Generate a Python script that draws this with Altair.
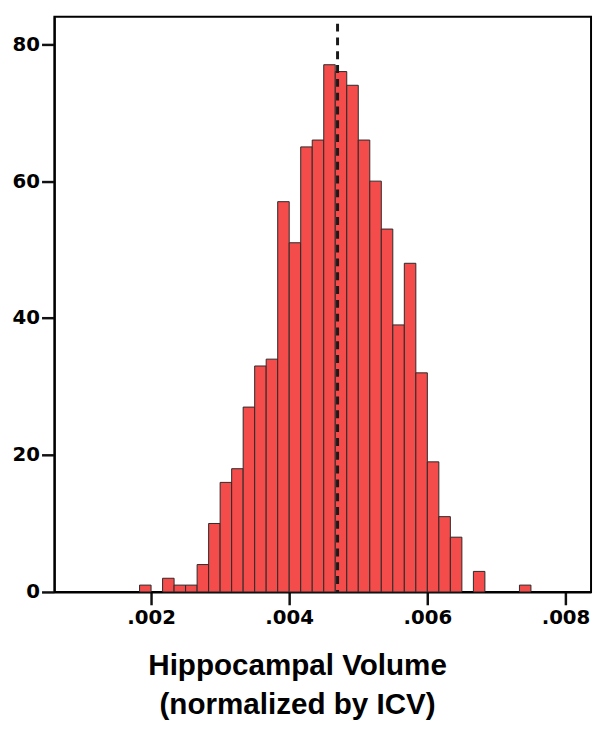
import altair as alt
import pandas as pd

# histogram bins: width = 0.002/12, starting at 0.004 - 13/6000
bin_width = 0.002 / 12
first_edge = 0.004 - 13 * bin_width
counts = [1, 0, 2, 1, 1, 4, 10, 16, 18, 27, 33, 34, 57,
          51, 65, 66, 77, 76, 74, 66, 60, 53, 39, 48, 32,
          19, 11, 8, 0, 3, 0, 0, 0, 1]
mean_value = 0.0047
x_ticks = [0.002, 0.004, 0.006, 0.008]
y_ticks = [0, 20, 40, 60, 80]

rows = []
for i, c in enumerate(counts):
    if c > 0:
        lo = first_edge + i * bin_width
        rows.append({"lo": lo, "hi": lo + bin_width, "count": c})
df = pd.DataFrame(rows)

xscale = alt.Scale(domain=[0.0006, 0.00837], nice=False, zero=False)
yscale = alt.Scale(domain=[0, 84], nice=False)

tick_style = dict(ticks=True, tickSize=13, tickWidth=2.5, tickColor="#111111")

bars = alt.Chart(df).mark_rect(
    fill="#F44B4B", stroke="#2a2a2a", strokeWidth=1
).encode(
    x=alt.X("lo:Q", scale=xscale,
            axis=alt.Axis(values=x_ticks, labelExpr="replace(format(datum.value, '.3f'), /^0/, '')",
                          title=["Hippocampal Volume", "(normalized by ICV)"],
                          titleX=246, titleY=60, titleAlign="center", titleBaseline="top",
                          labelPadding=3, **tick_style)),
    x2="hi:Q",
    y=alt.Y("count:Q", scale=yscale,
            axis=alt.Axis(values=y_ticks, title=None, labelPadding=2, **tick_style)),
    y2=alt.datum(0),
)

mean_df = pd.DataFrame({"m": [mean_value], "top": [83], "bot": [0]})
rule = alt.Chart(mean_df).mark_rule(
    color="#1a1a1a", strokeWidth=3, strokeDash=[8, 6]
).encode(
    x=alt.X("m:Q", scale=xscale),
    y=alt.Y("top:Q", scale=yscale),
    y2="bot:Q",
)

chart = alt.layer(bars, rule).properties(
    width=544, height=583,
    autosize=alt.AutoSizeParams(type="none"),
    padding={"left": 47, "top": 4, "right": 3, "bottom": 134},
).configure_view(
    stroke="black", strokeWidth=2
).configure_axis(
    grid=False,
    domainColor="black", domainWidth=2,
    labelFont="DejaVu Sans", labelFontWeight="bold", labelFontSize=20,
    labelColor="black",
).configure_axisX(
    titleFont="Liberation Sans", titleFontWeight="bold", titleFontSize=30,
    titleColor="black", titleLineHeight=39,
)

chart.save("out.html", embed_options={"renderer": "svg", "actions": False})
